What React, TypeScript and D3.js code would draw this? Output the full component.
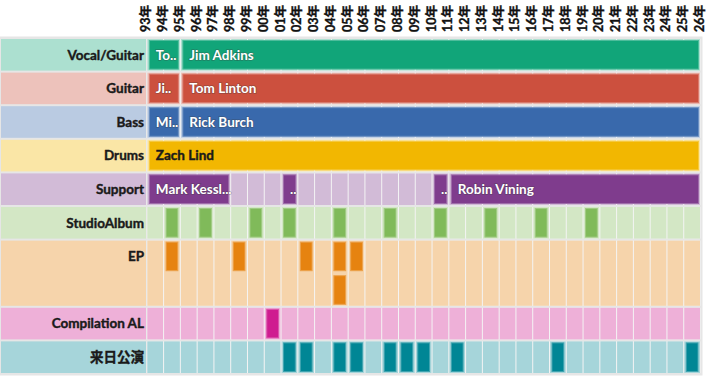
import React from "react";
import * as d3 from "d3";

const W = 706;
const H = 378;

const yearTicks = [
  "93年","94年","95年","96年","97年","98年","99年","00年","01年","02年","03年","04年",
  "05年","06年","07年","08年","09年","10年","11年","12年","13年","14年","15年","16年",
  "17年","18年","19年","20年","21年","22年","23年","24年","25年","26年",
];
const firstYear = 1993;
const lastYear = 2026;

const rowNames = ["Vocal/Guitar", "Guitar", "Bass", "Drums", "Support", "StudioAlbum", "EP", "Compilation AL", "来日公演"];
const rowColors = ["#11A579", "#cc503e", "#3969AC", "#F2B701", "#7F3C8D", "#80BA5A", "#E68310", "#CF1C90", "#008695"];
const rowUnits = [1, 1, 1, 1, 1, 1, 2, 1, 1];

const vocalGuitar = [
  { start: 1993, end: 1995, label: "To.." },
  { start: 1995, end: 2026, label: "Jim Adkins" },
];
const guitar = [
  { start: 1993, end: 1995, label: "Ji.." },
  { start: 1995, end: 2026, label: "Tom Linton" },
];
const bass = [
  { start: 1993, end: 1995, label: "Mi.." },
  { start: 1995, end: 2026, label: "Rick Burch" },
];
const drums = [{ start: 1993, end: 2026, label: "Zach Lind" }];
const support = [
  { start: 1993, end: 1998, label: "Mark Kessl..." },
  { start: 2001, end: 2002, label: ".." },
  { start: 2010, end: 2011, label: ".." },
  { start: 2011, end: 2026, label: "Robin Vining" },
];
const memberRows = [vocalGuitar, guitar, bass, drums, support];
const darkTextRows = [3];

const studioAlbums = [1994, 1996, 1999, 2001, 2004, 2007, 2010, 2013, 2016, 2019];
const eps = [
  { year: 1994, lane: 0 },
  { year: 1998, lane: 0 },
  { year: 2002, lane: 0 },
  { year: 2004, lane: 0 },
  { year: 2004, lane: 1 },
  { year: 2005, lane: 0 },
];
const compilations = [2000];
const japanTours = [2001, 2002, 2004, 2005, 2007, 2008, 2009, 2011, 2017, 2025];

const FONT = "Lato, 'Noto Sans CJK JP', sans-serif";

export default function App() {
  const x = d3.scaleLinear().domain([firstYear, lastYear]).range([146.8, 700.5]);
  const cw = x(firstYear + 1) - x(firstYear);
  const top = 38;
  const unit = 33.6;
  const totalUnits = d3.sum(rowUnits);
  const y = d3.scaleLinear().domain([0, totalUnits]).range([top, top + unit * totalUnits]);
  const offsets = rowUnits.map((_, i) => d3.sum(rowUnits.slice(0, i)));
  const light = (c: string) => d3.interpolateRgb(c, "#ffffff")(0.65);
  const edge = (c: string) => d3.interpolateRgb(c, "#ffffff")(0.25);
  const cellYears = d3.range(firstYear, lastYear);

  const events: { row: number; year: number; lane: number }[] = [
    ...studioAlbums.map((yr) => ({ row: 5, year: yr, lane: 0 })),
    ...eps.map((e) => ({ row: 6, year: e.year, lane: e.lane })),
    ...compilations.map((yr) => ({ row: 7, year: yr, lane: 0 })),
    ...japanTours.map((yr) => ({ row: 8, year: yr, lane: 0 })),
  ];

  return (
    <svg width={W} height={H} style={{ position: "absolute", left: 0, top: 0, background: "#fff" }} fontFamily={FONT}>
      <rect x={0} y={36.5} width={702.5} height={unit * totalUnits + 3} fill="#e6e6e6" />
      {yearTicks.map((t, i) => {
        const xx = x(firstYear + i) - 1;
        return (
          <text
            key={t}
            transform={`translate(${xx},32) rotate(-90)`}
            dy="0.36em"
            fontSize={12.5}
            fontWeight={700}
            fill="#111"
            stroke="#111"
            strokeWidth={0.35}
          >
            {t}
          </text>
        );
      })}
      {rowNames.map((name, i) => {
        const y0 = y(offsets[i]);
        const h = unit * rowUnits[i];
        const c = rowColors[i];
        return (
          <g key={name}>
            <rect x={1} y={y0 + 1} width={145} height={h - 2} fill={light(c)} />
            <rect x={x(firstYear)} y={y0 + 1} width={x(lastYear) - x(firstYear)} height={h - 2} fill="#f4f4f4" />
            {cellYears.map((yr) => (
              <rect key={yr} x={x(yr) + 0.5} y={y0 + 1} width={cw - 1} height={h - 2} fill={light(c)} />
            ))}
            <text
              x={144}
              y={y0 + unit / 2}
              dy="0.36em"
              textAnchor="end"
              fontSize={13.5}
              fontWeight={700}
              fill="#1a1a1a"
              stroke="#1a1a1a"
              strokeWidth={0.4}
            >
              {name}
            </text>
          </g>
        );
      })}
      {memberRows.map((spans, ri) => {
        const y0 = y(offsets[ri]);
        const c = rowColors[ri];
        const dark = darkTextRows.includes(ri);
        return spans.map((s) => {
          const x0 = x(s.start) + 2;
          const w = x(s.end) - x(s.start) - 3.5;
          return (
            <g key={`${ri}-${s.start}`}>
              <rect x={x0 + 0.5} y={y0 + 2.5} width={w - 1} height={unit - 5} fill={c} stroke={edge(c)} strokeWidth={1} />
              <text
                x={x0 + 7}
                y={y0 + unit / 2}
                dy="0.36em"
                fontSize={13.5}
                fontWeight={700}
                fill={dark ? "#1a1a1a" : "#ffffff"}
                stroke={dark ? "#1a1a1a" : "rgba(60,60,60,0.35)"}
                strokeWidth={dark ? 0.4 : 1.6}
                style={{ paintOrder: "stroke" }}
              >
                {s.label}
              </text>
            </g>
          );
        });
      })}
      {events.map((e, i) => {
        const c = rowColors[e.row];
        const y0 = y(offsets[e.row]) + e.lane * unit;
        return (
          <rect
            key={i}
            x={x(e.year) + 2.5}
            y={y0 + 2.5}
            width={cw - 5}
            height={unit - 5}
            fill={c}
            stroke={edge(c)}
            strokeWidth={1}
          />
        );
      })}
    </svg>
  );
}
